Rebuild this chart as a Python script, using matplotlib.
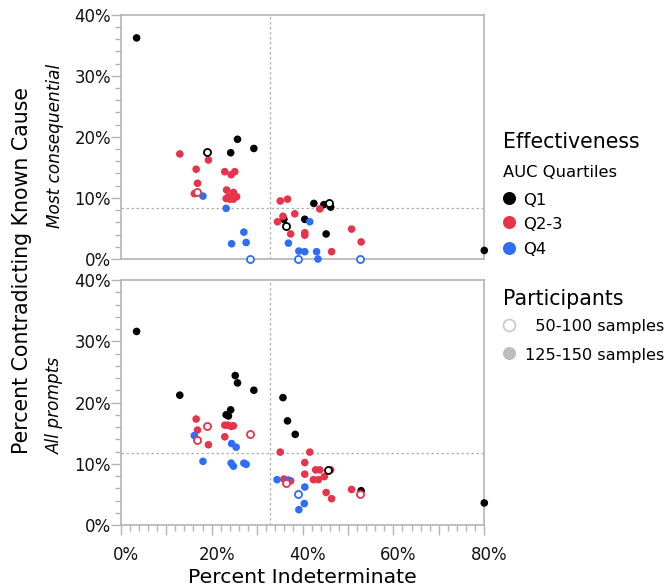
import matplotlib.pyplot as plt
import matplotlib.transforms as mtransforms
from matplotlib.lines import Line2D
from matplotlib.ticker import MultipleLocator, FuncFormatter

plt.rcParams["font.family"] = ["DejaVu Sans"]

# -----------------------------
# Data (percent indeterminate, percent contradicting known cause)
# -----------------------------
# Top panel: most consequential
top_q1_big_x = [3.5, 24.2, 25.7, 29.3, 35.9, 40.5, 42.5, 44.7, 46.2, 45.2, 80.0]
top_q1_big_y = [36.2, 17.4, 19.6, 18.1, 6.5, 6.5, 9.1, 8.9, 8.5, 4.1, 1.4]
top_q1_small_x = [19.0, 36.3, 45.9]
top_q1_small_y = [17.6, 5.4, 9.2]

top_q23_big_x = [13.0, 19.3, 16.6, 16.9, 16.2, 22.9, 24.3, 25.1, 23.3, 24.8, 23.2, 24.0,
                 24.8, 25.5, 23.7, 35.1, 36.7, 35.7, 34.5, 38.3, 37.4, 40.5, 40.5, 43.8,
                 50.8, 52.9, 46.4]
top_q23_big_y = [17.2, 16.2, 14.7, 12.4, 10.7, 14.3, 13.8, 14.3, 11.3, 10.9, 9.9, 9.8,
                 9.8, 10.2, 10.2, 9.5, 9.8, 7.0, 6.1, 7.4, 4.1, 4.3, 3.9, 8.2,
                 4.9, 2.8, 1.2]
top_q23_small_x = [16.8]
top_q23_small_y = [10.9]

top_q4_big_x = [18.1, 23.2, 27.1, 27.6, 24.4, 36.9, 39.2, 40.5, 41.6, 43.1, 43.4]
top_q4_big_y = [10.3, 8.3, 4.4, 2.7, 2.5, 2.6, 1.3, 1.2, 6.1, 1.2, 0.0]
top_q4_small_x = [28.5, 38.9, 52.6]
top_q4_small_y = [0.0, 0.0, 0.0]

# Bottom panel: all prompts
bot_q1_big_x = [3.5, 13.0, 25.2, 25.7, 29.3, 24.2, 23.2, 23.7, 35.7, 36.7, 38.4, 52.9, 80.0]
bot_q1_big_y = [31.6, 21.2, 24.4, 23.2, 22.0, 18.8, 18.0, 17.8, 20.8, 17.0, 14.8, 5.6, 3.6]
bot_q1_small_x = [45.7]
bot_q1_small_y = [9.0]

bot_q23_big_x = [16.6, 16.9, 19.3, 22.9, 23.6, 24.3, 24.8, 22.9, 35.1, 41.6, 40.5, 40.5,
                 42.9, 43.8, 46.2, 42.4, 43.5, 44.8, 35.9, 36.9, 37.4, 45.2, 46.4, 50.8]
bot_q23_big_y = [17.3, 15.5, 13.1, 16.3, 16.3, 16.1, 16.2, 14.4, 11.9, 11.9, 10.2, 8.3,
                 9.0, 9.0, 9.0, 7.4, 7.4, 7.9, 7.5, 7.3, 7.2, 5.3, 4.3, 5.8]
bot_q23_small_x = [19.0, 16.8, 28.5, 36.3, 52.6]
bot_q23_small_y = [16.2, 13.9, 14.8, 6.8, 5.0]

bot_q4_big_x = [16.2, 18.1, 24.4, 25.4, 24.3, 24.8, 27.1, 27.6, 34.4, 36.8, 40.5, 40.4, 39.2]
bot_q4_big_y = [14.6, 10.4, 13.3, 12.7, 10.1, 9.6, 10.1, 9.9, 7.4, 7.3, 6.2, 3.5, 2.5]
bot_q4_small_x = [38.9]
bot_q4_small_y = [5.0]

# reference lines (medians)
median_x = 32.9
top_median_y = 8.4
bot_median_y = 11.8

quartile_labels = ["Q1", "Q2-3", "Q4"]
quartile_colors = ["#000000", "#e8344a", "#2d6ef5"]
sample_labels = ["  50-100 samples", "125-150 samples"]

# -----------------------------
# Figure
# -----------------------------
W, H = 667, 588
fig = plt.figure(figsize=(W / 100, H / 100), dpi=100)

ax_top = fig.add_axes([120.7 / W, 1 - 259 / H, 363.6 / W, 244.3 / H])
ax_bot = fig.add_axes([120.7 / W, 1 - 525 / H, 363.6 / W, 245 / H])

spine_gray = "#b4b4b4"
dash_gray = "#b0b0b0"
size = 30


def pct_x(v, pos):
    # only every other ten gets a label
    return f"{v:.0f}%" if round(v) % 20 == 0 else ""


def draw_panel(ax, groups, med_y, show_x):
    ax.axvline(median_x, color=dash_gray, linestyle=(0, (2, 2)), linewidth=0.9, zorder=1)
    ax.axhline(med_y, color=dash_gray, linestyle=(0, (2, 2)), linewidth=0.9, zorder=1)
    for (bx, by, sx, sy), c in zip(groups, quartile_colors):
        ax.scatter(bx, by, s=size, color=c, edgecolors="none", zorder=3, clip_on=False)
    for (bx, by, sx, sy), c in zip(groups, quartile_colors):
        ax.scatter(sx, sy, s=size - 4, facecolors="white", edgecolors=c,
                   linewidths=1.3, zorder=4, clip_on=False)
    ax.set_xlim(0, 80)
    ax.set_ylim(0, 40)
    for sp in ax.spines.values():
        sp.set_color(spine_gray)
        sp.set_linewidth(1.2)
    ax.yaxis.set_major_locator(MultipleLocator(10))
    ax.yaxis.set_minor_locator(MultipleLocator(2))
    ax.yaxis.set_major_formatter(FuncFormatter(lambda v, p: f"{v:.0f}%"))
    ax.tick_params(axis="y", which="major", length=7, width=1, color=spine_gray,
                   labelsize=11.9, pad=0, labelcolor="#111111")
    ax.tick_params(axis="y", which="minor", length=4, width=1, color=spine_gray)
    if show_x:
        ax.xaxis.set_major_locator(MultipleLocator(10))
        ax.xaxis.set_minor_locator(MultipleLocator(2))
        ax.xaxis.set_major_formatter(FuncFormatter(pct_x))
        ax.tick_params(axis="x", which="major", length=7, width=1, color=spine_gray,
                       labelsize=11.9, pad=8, labelcolor="#111111")
        ax.tick_params(axis="x", which="minor", length=4, width=1, color=spine_gray)
        shift = mtransforms.ScaledTranslation(5 / 100, 0, fig.dpi_scale_trans)
        for lab in ax.get_xticklabels():
            lab.set_transform(lab.get_transform() + shift)
    else:
        ax.tick_params(axis="x", which="both", length=0, labelbottom=False)


draw_panel(ax_top, [
    (top_q1_big_x, top_q1_big_y, top_q1_small_x, top_q1_small_y),
    (top_q23_big_x, top_q23_big_y, top_q23_small_x, top_q23_small_y),
    (top_q4_big_x, top_q4_big_y, top_q4_small_x, top_q4_small_y),
], top_median_y, False)

draw_panel(ax_bot, [
    (bot_q1_big_x, bot_q1_big_y, bot_q1_small_x, bot_q1_small_y),
    (bot_q23_big_x, bot_q23_big_y, bot_q23_small_x, bot_q23_small_y),
    (bot_q4_big_x, bot_q4_big_y, bot_q4_small_x, bot_q4_small_y),
], bot_median_y, True)

# the top "40%" label sits a little lower, inside the figure
down = mtransforms.ScaledTranslation(0, -5 / 100, fig.dpi_scale_trans)
for tick in ax_top.yaxis.get_major_ticks():
    if abs(tick.get_loc() - 40) < 1e-6:
        tick.label1.set_transform(tick.label1.get_transform() + down)

# panel captions
ax_top.text(-0.18, 0.4625, "Most consequential", transform=ax_top.transAxes, rotation=90,
            ha="center", va="center", fontsize=12.2, style="italic")
ax_bot.text(-0.18, 0.49, "All prompts", transform=ax_bot.transAxes, rotation=90,
            ha="center", va="center", fontsize=12.2, style="italic")

# axis titles
fig.text(302.5 / W, 1 - 583 / H, "Percent Indeterminate", ha="center", va="baseline",
         fontsize=14.7)
fig.text(22 / W, 1 - 270 / H, "Percent Contradicting Known Cause", ha="center",
         va="center", rotation=90, fontsize=14.8)


# legend built by hand
def fx(px):
    return px / W


def fy(py):
    return 1 - py / H


fig.text(fx(502.7), fy(148), "Effectiveness", fontsize=14.8, va="baseline")
fig.text(fx(502.7), fy(176.7), "AUC Quartiles", fontsize=11.8, va="baseline")
for lab, col, my in zip(quartile_labels, quartile_colors, [198.3, 222.3, 247.7]):
    fig.add_artist(Line2D([fx(509.3)], [fy(my)], marker="o", markersize=9.4,
                          color=col, markeredgewidth=0, linestyle="none",
                          transform=fig.transFigure))
    fig.text(fx(523.3), fy(my + 6.3), lab, fontsize=11.8, va="baseline")

fig.text(fx(502.7), fy(305), "Participants", fontsize=14.8, va="baseline")
fig.add_artist(Line2D([fx(509.3)], [fy(325)], marker="o", markersize=8.6,
                      markerfacecolor="white", markeredgecolor="#c8c8c8",
                      markeredgewidth=1.2, linestyle="none", transform=fig.transFigure))
fig.add_artist(Line2D([fx(509.3)], [fy(353.3)], marker="o", markersize=9.4,
                      color="#bdbdbd", markeredgewidth=0, linestyle="none",
                      transform=fig.transFigure))
fig.text(fx(525), fy(331.5), sample_labels[0], fontsize=11.6, va="baseline")
fig.text(fx(525), fy(360), sample_labels[1], fontsize=11.6, va="baseline")

fig.savefig("out.png", dpi=100)
